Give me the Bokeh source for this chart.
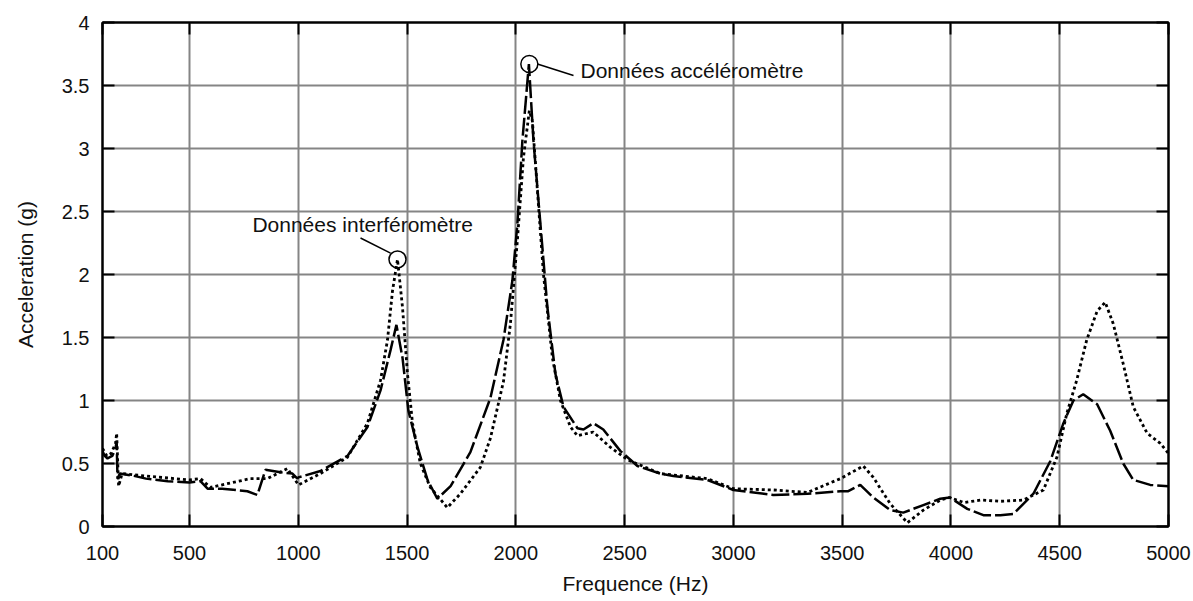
from bokeh.plotting import figure
from bokeh.models import FixedTicker, LinearAxis, Range1d
from bokeh.core.properties import value
from bokeh.embed import file_html
from bokeh.resources import INLINE

# --- data ---
freq_acc = [100, 110, 123, 145, 160, 165, 169, 180, 250, 300, 400, 500, 550, 583, 650, 766, 812,
            849, 918, 973, 996, 1000, 1102, 1226, 1318, 1378, 1424, 1451, 1479, 1506, 1548, 1594,
            1639, 1700, 1791, 1883, 1943, 1984, 2007, 2030, 2060, 2081, 2113, 2145, 2182, 2219,
            2283, 2311, 2356, 2402, 2480, 2559, 2664, 2724, 2880, 3000, 3184, 3340, 3492, 3528,
            3583, 3643, 3721, 3781, 3873, 3951, 3995, 4075, 4149, 4227, 4287, 4379, 4457, 4517,
            4563, 4608, 4672, 4732, 4792, 4838, 4916, 5000]
acc_g = [0.60, 0.56, 0.54, 0.56, 0.62, 0.68, 0.38, 0.42, 0.40, 0.38, 0.36, 0.35, 0.36, 0.30, 0.30,
         0.28, 0.25, 0.45, 0.43, 0.42, 0.38, 0.39, 0.44, 0.56, 0.79, 1.08, 1.40, 1.60, 1.34, 0.92,
         0.63, 0.37, 0.22, 0.32, 0.59, 1.02, 1.48, 1.95, 2.40, 3.06, 3.67, 3.06, 2.40, 1.74, 1.21,
         0.95, 0.78, 0.77, 0.82, 0.77, 0.60, 0.48, 0.42, 0.40, 0.37, 0.29, 0.25, 0.26, 0.28, 0.28,
         0.33, 0.23, 0.13, 0.11, 0.17, 0.22, 0.23, 0.14, 0.09, 0.09, 0.10, 0.26, 0.52, 0.82, 1.00,
         1.05, 0.97, 0.76, 0.50, 0.37, 0.33, 0.32]

freq_int = [100, 120, 140, 160, 165, 174, 190, 300, 500, 550, 596, 700, 780, 858, 950, 1001,
            1102, 1226, 1318, 1378, 1410, 1433, 1456, 1479, 1502, 1525, 1561, 1607, 1685, 1745,
            1837, 1883, 1943, 1975, 2007, 2035, 2062, 2076, 2099, 2127, 2168, 2205, 2251, 2283,
            2356, 2434, 2513, 2664, 2880, 3000, 3184, 3340, 3492, 3597, 3643, 3721, 3800, 3873,
            3951, 3995, 4060, 4137, 4227, 4333, 4425, 4487, 4533, 4578, 4624, 4672, 4709, 4746,
            4792, 4838, 4902, 4962, 5000]
int_g = [0.62, 0.56, 0.58, 0.66, 0.74, 0.32, 0.42, 0.40, 0.37, 0.38, 0.31, 0.35, 0.38, 0.38, 0.46,
         0.33, 0.42, 0.55, 0.82, 1.16, 1.48, 1.87, 2.12, 1.74, 1.21, 0.82, 0.50, 0.31, 0.15, 0.26,
         0.47, 0.70, 1.15, 1.61, 2.27, 2.93, 3.30, 3.22, 2.67, 2.00, 1.34, 1.00, 0.79, 0.72, 0.75,
         0.63, 0.53, 0.42, 0.38, 0.30, 0.29, 0.27, 0.38, 0.48, 0.39, 0.18, 0.03, 0.13, 0.21, 0.23,
         0.19, 0.21, 0.20, 0.21, 0.29, 0.55, 0.90, 1.16, 1.48, 1.71, 1.78, 1.61, 1.29, 0.95, 0.74,
         0.66, 0.58]

x_ticks = [100, 500, 1000, 1500, 2000, 2500, 3000, 3500, 4000, 4500, 5000]
y_ticks = [0, 0.5, 1, 1.5, 2, 2.5, 3, 3.5, 4]

# annotations (data coordinates)
label_texts = ["Données interféromètre", "Données accéléromètre"]
label_x = [789, 2297]
label_y = [2.40, 3.62]
circle_x = [1456, 2062]
circle_y = [2.12, 3.67]
leader_x0 = [1286, 2099]
leader_y0 = [2.29, 3.67]
leader_x1 = [1424, 2265]
leader_y1 = [2.17, 3.58]

FONT = "Liberation Sans"

p = figure(width=1193, height=598, output_backend="svg", toolbar_location=None,
           x_range=Range1d(100, 5000), y_range=Range1d(0, 4),
           frame_width=1066, frame_height=504,
           min_border_left=102, min_border_right=25, min_border_top=22, min_border_bottom=72)
p.background_fill_color = "white"
p.border_fill_color = "white"
p.outline_line_color = "black"
p.outline_line_width = 2

for ax in (p.xaxis[0], p.yaxis[0]):
    ax.major_tick_in = 12
    ax.major_tick_out = 0
    ax.minor_tick_line_color = None
    ax.major_tick_line_color = "black"
    ax.major_tick_line_width = 2
    ax.axis_line_color = "black"
    ax.axis_line_width = 2
    ax.major_label_text_font = FONT
    ax.major_label_text_font_size = "20px"
    ax.major_label_text_color = "#111111"
    ax.axis_label_text_font = FONT
    ax.axis_label_text_font_size = "21px"
    ax.axis_label_text_font_style = "normal"
    ax.axis_label_text_color = "#111111"

p.xaxis[0].ticker = FixedTicker(ticks=x_ticks)
p.yaxis[0].ticker = FixedTicker(ticks=y_ticks)
p.xaxis[0].major_label_standoff = 19
p.yaxis[0].major_label_standoff = 13
p.xaxis[0].axis_label = "Frequence (Hz)"
p.yaxis[0].axis_label = "Acceleration (g)"
p.xaxis[0].axis_label_standoff = 9
p.yaxis[0].axis_label_standoff = 22

# extra axes for inward ticks on top and right (labels not drawn)
for loc, tk in (("above", x_ticks), ("right", y_ticks)):
    ax = LinearAxis(ticker=FixedTicker(ticks=tk))
    ax.major_tick_in = 12
    ax.major_tick_out = 0
    ax.minor_tick_line_color = None
    ax.major_tick_line_color = "black"
    ax.major_tick_line_width = 2
    ax.axis_line_color = "black"
    ax.axis_line_width = 2
    ax.major_label_text_color = None
    ax.major_label_text_font_size = "1px"
    ax.major_label_standoff = 0
    p.add_layout(ax, loc)

p.xgrid.ticker = FixedTicker(ticks=x_ticks)
p.ygrid.ticker = FixedTicker(ticks=y_ticks)
for g in (p.xgrid[0], p.ygrid[0]):
    g.grid_line_color = "#858585"
    g.grid_line_width = 2

p.line(freq_acc, acc_g, line_color="black", line_width=2.5, line_dash="18 4")
p.line(freq_int, int_g, line_color="black", line_width=2.8, line_dash="3 3")

p.segment(x0=leader_x0, y0=leader_y0, x1=leader_x1, y1=leader_y1, line_color="black", line_width=1.5)
p.scatter(circle_x, circle_y, marker="circle", size=17, fill_color=None,
          line_color="black", line_width=1.5)
p.text(x=label_x, y=label_y, text=label_texts, text_font_size="21px",
       text_font=value(FONT), text_baseline="middle", text_align="left", text_color="#111111")

open("out.html", "w").write(file_html(p, INLINE))
